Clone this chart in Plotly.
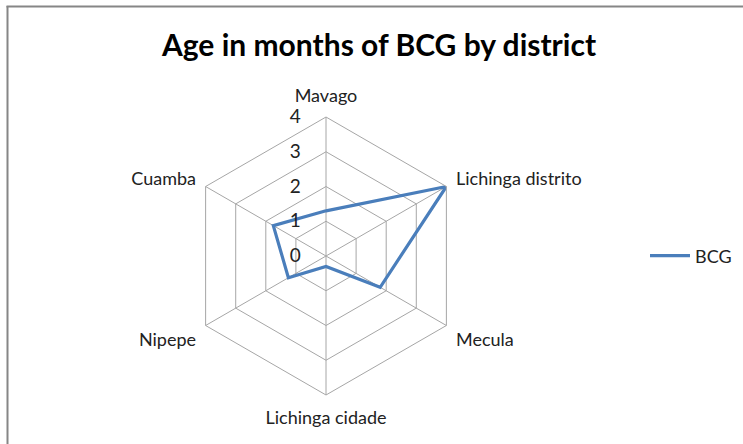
import plotly.graph_objects as go

categories = ["Mavago", "Lichinga distrito", "Mecula", "Lichinga cidade", "Nipepe", "Cuamba"]
bcg_values = [1.3, 4.0, 1.8, 0.3, 1.25, 1.75]
radial_ticks = [0, 1, 2, 3, 4]
series_name = "BCG"
title_text = "Age in months of BCG by district"

W, H = 743, 444
cx, cy, R = 326, 256, 139

fig = go.Figure()
fig.add_trace(go.Scatterpolar(
    r=bcg_values + bcg_values[:1],
    theta=categories + categories[:1],
    mode="lines",
    name=series_name,
    line=dict(color="#4a7ebb", width=3.2),
))

grid = "#a6a6a6"
fig.update_layout(
    width=W, height=H,
    margin=dict(l=0, r=0, t=0, b=0),
    paper_bgcolor="white",
    font=dict(family="Lato, Carlito, Calibri, sans-serif", color="#222222", size=18),
    title=dict(text=f"<b>{title_text}</b>", x=379 / W, xanchor="center",
               y=1 - 45 / H, yanchor="middle",
               font=dict(size=30, color="#000000")),
    showlegend=True,
    legend=dict(x=645 / W, y=1 - 256 / H, xanchor="left", yanchor="middle",
                font=dict(size=18), itemwidth=40),
    polar=dict(
        domain=dict(x=[(cx - R) / W, (cx + R) / W], y=[(H - cy - R) / H, (H - cy + R) / H]),
        bgcolor="white",
        gridshape="linear",
        angularaxis=dict(
            rotation=90, direction="clockwise",
            showline=True, linecolor=grid, linewidth=1,
            gridcolor=grid, gridwidth=1,
            ticks="outside", ticklen=7, tickcolor="rgba(0,0,0,0)",
            tickfont=dict(size=18),
        ),
        radialaxis=dict(
            range=[0, 4], tickvals=radial_ticks, angle=90, tickangle=90,
            showline=False, gridcolor=grid, gridwidth=1,
            ticks="outside", ticklen=18, tickcolor="rgba(0,0,0,0)",
            tickfont=dict(size=19), side="counterclockwise",
        ),
    ),
    shapes=[
        dict(type="line", xref="paper", yref="paper", x0=7.5 / W, x1=7.5 / W,
             y0=1 - 6 / H, y1=0, line=dict(color="#868686", width=2)),
        dict(type="line", xref="paper", yref="paper", x0=6.5 / W, x1=1,
             y0=1 - 6.5 / H, y1=1 - 6.5 / H, line=dict(color="#868686", width=2)),
    ],
)

fig.write_html("out.html", config={"displayModeBar": False},
               post_script="document.body.style.margin='0';document.body.style.padding='0';")
